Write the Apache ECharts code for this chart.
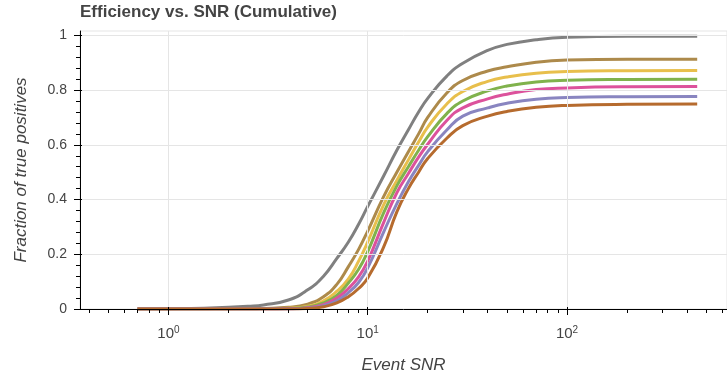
<!DOCTYPE html>
<html><head><meta charset="utf-8">
<script src="https://cdn.jsdelivr.net/npm/echarts@6/dist/echarts.min.js"></script>
<style>html,body{margin:0;padding:0;background:#fff}#c{width:727px;height:379px}</style>
</head><body><div id="c"></div>
<script>
// ---- data ----
const snr = [0.7, 1, 1.5, 2, 2.5, 3, 4, 5, 6, 7, 8, 9, 10, 12, 14, 16, 18, 20, 25, 30, 40, 50, 70, 100, 200, 450];
const grayVals   = [0, 0.001, 0.003, 0.006, 0.01, 0.015, 0.033, 0.07, 0.12, 0.185, 0.245, 0.31, 0.375, 0.485, 0.58, 0.655, 0.72, 0.77, 0.852, 0.898, 0.945, 0.967, 0.984, 0.993, 0.997, 0.997];
const tanVals    = [0, 0, 0, 0.001, 0.001, 0.002, 0.006, 0.018, 0.045, 0.09, 0.155, 0.218, 0.285, 0.41, 0.5, 0.575, 0.64, 0.70, 0.79, 0.835, 0.87, 0.885, 0.902, 0.91, 0.913, 0.913];
const yellowVals = [0, 0, 0, 0, 0.001, 0.001, 0.003, 0.01, 0.03, 0.065, 0.11, 0.175, 0.245, 0.38, 0.47, 0.545, 0.61, 0.665, 0.75, 0.795, 0.832, 0.848, 0.862, 0.868, 0.871, 0.872];
const greenVals  = [0, 0, 0, 0, 0, 0.001, 0.002, 0.007, 0.022, 0.05, 0.095, 0.145, 0.21, 0.35, 0.45, 0.52, 0.58, 0.63, 0.715, 0.76, 0.797, 0.815, 0.83, 0.836, 0.839, 0.84];
const pinkVals   = [0, 0, 0, 0, 0, 0, 0.001, 0.005, 0.016, 0.04, 0.075, 0.117, 0.175, 0.315, 0.425, 0.495, 0.555, 0.602, 0.69, 0.735, 0.768, 0.785, 0.802, 0.808, 0.812, 0.813];
const purpleVals = [0, 0, 0, 0, 0, 0, 0, 0.003, 0.012, 0.03, 0.06, 0.097, 0.15, 0.28, 0.385, 0.465, 0.525, 0.575, 0.655, 0.705, 0.735, 0.752, 0.767, 0.773, 0.776, 0.777];
const orangeVals = [0, 0, 0, 0, 0, 0, 0, 0.002, 0.008, 0.022, 0.045, 0.075, 0.113, 0.225, 0.355, 0.44, 0.5, 0.55, 0.625, 0.67, 0.705, 0.722, 0.737, 0.744, 0.748, 0.749];

const xRange = [0.36, 635];
const xMajorTicks = [1, 10, 100];
const xMinorTicks = [0.4, 0.5, 0.6, 0.7, 0.8, 0.9, 2, 3, 4, 5, 6, 7, 8, 9, 20, 30, 40, 50, 60, 70, 80, 90, 200, 300, 400, 500, 600];
const yRange = [0, 1.016];
const yMajorTicks = [0, 0.2, 0.4, 0.6, 0.8, 1];
const yMinorTicks = [0.04, 0.08, 0.12, 0.16, 0.24, 0.28, 0.32, 0.36, 0.44, 0.48, 0.52, 0.56, 0.64, 0.68, 0.72, 0.76, 0.84, 0.88, 0.92, 0.96];

const titleText = 'Efficiency vs. SNR (Cumulative)';
const xTitle = 'Event SNR';
const yTitle = 'Fraction of true positives';

// ---- build ----
const LX = v => Math.log10(v);
const FONT = 'Liberation Sans, Arial, Helvetica, sans-serif';
const TXT = '#444';

const lines = [
  {vals: grayVals,   color: '#808080'},
  {vals: tanVals,    color: '#ad8a4b'},
  {vals: yellowVals, color: '#e8bf4c'},
  {vals: greenVals,  color: '#80b24c'},
  {vals: pinkVals,   color: '#dc529c'},
  {vals: purpleVals, color: '#8985c0'},
  {vals: orangeVals, color: '#b66b2e'}
];

const xMin = LX(xRange[0]), xMax = LX(xRange[1]);

function tickAxisX(values, len, inside) {
  return {
    type: 'value', gridIndex: 0, position: 'bottom', min: xMin, max: xMax, z: 10,
    axisLine: {show: false, onZero: false},
    axisTick: {show: true, customValues: values.map(LX), length: len, inside: inside, lineStyle: {color: '#000', width: 1}},
    axisLabel: {show: false}, splitLine: {show: false}
  };
}
function tickAxisY(values, len, inside) {
  return {
    type: 'value', gridIndex: 0, position: 'left', min: yRange[0], max: yRange[1], z: 10,
    axisLine: {show: false, onZero: false},
    axisTick: {show: true, customValues: values, length: len, inside: inside, lineStyle: {color: '#000', width: 1}},
    axisLabel: {show: false}, splitLine: {show: false}
  };
}

const option = {
  animation: false,
  backgroundColor: '#fff',
  title: {
    text: titleText, left: 80, top: 4, padding: 0,
    textStyle: {fontFamily: FONT, fontSize: 17, fontWeight: 'bold', color: TXT}
  },
  grid: {left: 80, right: 0, top: 31, bottom: 67, show: true, borderColor: '#e5e5e5', borderWidth: 1, containLabel: false},
  xAxis: [
    {
      type: 'value', gridIndex: 0, position: 'bottom', min: xMin, max: xMax, z: 10,
      axisLine: {show: true, onZero: false, lineStyle: {color: '#000', width: 1}},
      axisTick: {show: true, customValues: xMajorTicks.map(LX), length: 6, lineStyle: {color: '#000', width: 1}},
      axisLabel: {
        show: true, customValues: xMajorTicks.map(LX), margin: 16,
        formatter: v => '{b|10}{s|' + Math.round(v) + '}',
        rich: {
          b: {fontFamily: FONT, fontSize: 15, color: TXT, lineHeight: 17},
          s: {fontFamily: FONT, fontSize: 10, color: TXT, verticalAlign: 'top', lineHeight: 10}
        }
      },
      splitLine: {show: true, lineStyle: {color: '#e5e5e5', width: 1}},
      name: xTitle, nameLocation: 'middle', nameGap: 48,
      nameTextStyle: {fontFamily: FONT, fontSize: 17, fontStyle: 'italic', color: TXT}
    },
    tickAxisX(xMinorTicks, 4, false),
    tickAxisX(xMajorTicks, 2, true)
  ],
  yAxis: [
    {
      type: 'value', gridIndex: 0, position: 'left', min: yRange[0], max: yRange[1], z: 10,
      axisLine: {show: true, onZero: false, lineStyle: {color: '#000', width: 1}},
      axisTick: {show: true, customValues: yMajorTicks, length: 6, lineStyle: {color: '#000', width: 1}},
      axisLabel: {show: true, customValues: yMajorTicks, margin: 13, fontFamily: FONT, fontSize: 14, color: TXT,
        formatter: v => String(Math.round(v * 10) / 10)},
      splitLine: {show: true, lineStyle: {color: '#e5e5e5', width: 1}},
      name: yTitle, nameLocation: 'middle', nameGap: 50,
      nameTextStyle: {fontFamily: FONT, fontSize: 17, fontStyle: 'italic', color: TXT}
    },
    tickAxisY(yMinorTicks, 4, false),
    tickAxisY(yMajorTicks, 2, true)
  ],
  series: lines.map(l => ({
    type: 'line', xAxisIndex: 0, yAxisIndex: 0, z: 2,
    data: snr.map((s, i) => [LX(s), l.vals[i]]),
    smooth: 0.5, showSymbol: false, symbol: 'none',
    lineStyle: {color: l.color, width: 3}, itemStyle: {color: l.color},
    emphasis: {disabled: true}
  }))
};

const chart = echarts.init(document.getElementById('c'), null, {renderer: 'canvas'});
chart.setOption(option);
</script>
</body></html>
